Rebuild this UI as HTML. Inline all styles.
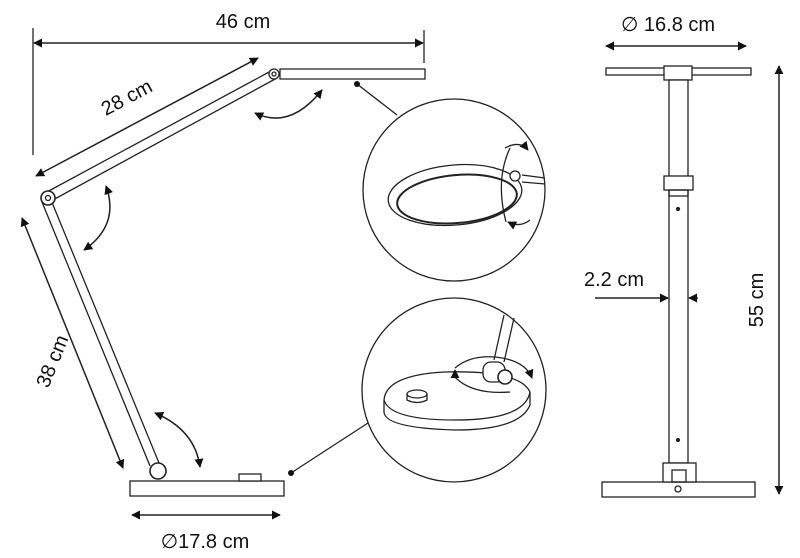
<!DOCTYPE html>
<html><head><meta charset="utf-8"><style>
html,body{margin:0;padding:0;background:#fff;}
svg{display:block}
text{font-family:"Liberation Sans",sans-serif;fill:#111;}
</style></head><body>
<svg width="800" height="558" viewBox="0 0 800 558" xmlns="http://www.w3.org/2000/svg">
<defs>
<marker id="a" viewBox="0 0 10 10" refX="9" refY="5" markerWidth="9" markerHeight="9" markerUnits="userSpaceOnUse" orient="auto-start-reverse"><path d="M0,0 L10,5 L0,10 z" fill="#111"/></marker>
</defs>
<g stroke="#222" stroke-width="1.3" fill="none">
<line x1="33" y1="28" x2="33" y2="155"/>
<line x1="424" y1="30" x2="424" y2="63"/>
<line x1="34" y1="43" x2="423" y2="43" stroke-width="1.5" marker-start="url(#a)" marker-end="url(#a)"/>
<path d="M280,69 L425,69 L425,79 L280,79 z" fill="#fff"/>
<path d="M271,71 L45,193 M277,78 L51,201" />
<circle cx="274" cy="74" r="5" fill="#fff"/><circle cx="274" cy="74" r="2"/>
<line x1="36" y1="176" x2="258" y2="58" stroke-width="1.5" marker-start="url(#a)" marker-end="url(#a)"/>
<path d="M42,202 L150,466 M51,200 L159,463"/>
<circle cx="48" cy="198" r="7" fill="#fff" stroke-width="1.6"/><circle cx="48" cy="198" r="2.5"/>
<line x1="22" y1="218" x2="123" y2="468" stroke-width="1.5" marker-start="url(#a)" marker-end="url(#a)"/>
<rect x="130" y="481" width="154" height="15" fill="#fff"/>
<rect x="239" y="474" width="22" height="7" fill="#fff"/>
<circle cx="158" cy="471" r="8" fill="#fff" stroke-width="1.6"/>
<line x1="132" y1="515" x2="280" y2="515" stroke-width="1.5" marker-start="url(#a)" marker-end="url(#a)"/>
<path d="M255,113 Q290,130 322,90" stroke-width="1.5" marker-start="url(#a)" marker-end="url(#a)"/>
<path d="M106,186 Q120,225 84,250" stroke-width="1.5" marker-start="url(#a)" marker-end="url(#a)"/>
<path d="M155,413 Q195,430 200,467" stroke-width="1.5" marker-start="url(#a)" marker-end="url(#a)"/>
<line x1="357" y1="84" x2="397" y2="115"/>
<line x1="291" y1="473" x2="368" y2="423"/>
<circle cx="454" cy="190" r="91"/>
<circle cx="454" cy="390" r="92"/>
<ellipse cx="455" cy="195" rx="67" ry="30" transform="rotate(-5 455 195)"/>
<ellipse cx="457" cy="199" rx="60" ry="24" transform="rotate(-5 457 199)" stroke-width="2"/>
<path d="M522,175 L545,178 M522,182 L545,184"/>
<circle cx="515" cy="176" r="5" fill="#fff"/>
<path d="M510,148 Q495,180 506,222" />
<path d="M505,148 Q520,140 528,150" marker-end="url(#a)"/>
<path d="M530,220 Q520,228 508,222" marker-end="url(#a)"/>
<path d="M384,400 Q386,375 445,372 Q520,370 530,392 L530,405 Q520,430 455,430 Q385,428 384,412 z" fill="#fff"/>
<path d="M384,400 Q390,420 455,420 Q525,420 530,392"/>
<ellipse cx="417" cy="394" rx="10" ry="4"/>
<path d="M407,394 L407,400 Q417,405 427,400 L427,394"/>
<path d="M504,315 L494,360 M514,318 L504,362"/>
<path d="M453,375 Q470,395 510,392" />
<path d="M455,368 Q470,355 495,357 Q525,360 532,378" marker-end="url(#a)"/>
<path d="M455,378 L455,370" marker-end="url(#a)"/>
<rect x="483" y="362" width="22" height="20" rx="8" fill="#fff"/>
<circle cx="505" cy="377" r="7" fill="#fff" stroke-width="1.6"/>
<rect x="606" y="68" width="145" height="7" fill="#fff"/>
<rect x="664" y="66" width="28" height="14" fill="#fff"/>
<rect x="669" y="80" width="19" height="383" fill="#fff"/>
<rect x="664" y="176" width="29" height="14" fill="#fff"/>
<rect x="669" y="190" width="19" height="6"/>
<circle cx="678" cy="209" r="1.5" fill="#222"/>
<circle cx="678" cy="440" r="1.5" fill="#222"/>
<rect x="602" y="482" width="153" height="15" fill="#fff"/>
<rect x="663" y="463" width="33" height="19" fill="#fff"/>
<rect x="672" y="470" width="14" height="12"/>
<circle cx="678" cy="489" r="3"/>
<line x1="606" y1="46" x2="746" y2="46" stroke-width="1.5" marker-start="url(#a)" marker-end="url(#a)"/>
<line x1="779" y1="66" x2="779" y2="494" stroke-width="1.5" marker-start="url(#a)" marker-end="url(#a)"/>
<line x1="595" y1="298" x2="668" y2="298" stroke-width="1.5" marker-end="url(#a)"/>
<line x1="698" y1="298" x2="689" y2="298" stroke-width="1.5" marker-end="url(#a)"/>
</g>
<g fill="#111">
<circle cx="357" cy="84" r="3"/>
<circle cx="291" cy="473" r="3"/>
</g>
<text x="243" y="28" font-size="20" text-anchor="middle">46 cm</text>
<text x="127" y="104" font-size="20" text-anchor="middle" transform="rotate(-28 127 98)">28 cm</text>
<text x="52" y="368" font-size="20" text-anchor="middle" transform="rotate(-68 52 361)">38 cm</text>
<text x="205" y="548" font-size="20" text-anchor="middle">∅17.8 cm</text>
<text x="668" y="31" font-size="20" text-anchor="middle">∅ 16.8 cm</text>
<text x="614" y="286" font-size="20" text-anchor="middle">2.2 cm</text>
<text x="770" y="307" font-size="20" text-anchor="middle" transform="rotate(-90 763 307)">55 cm</text>
</svg>
</body></html>
